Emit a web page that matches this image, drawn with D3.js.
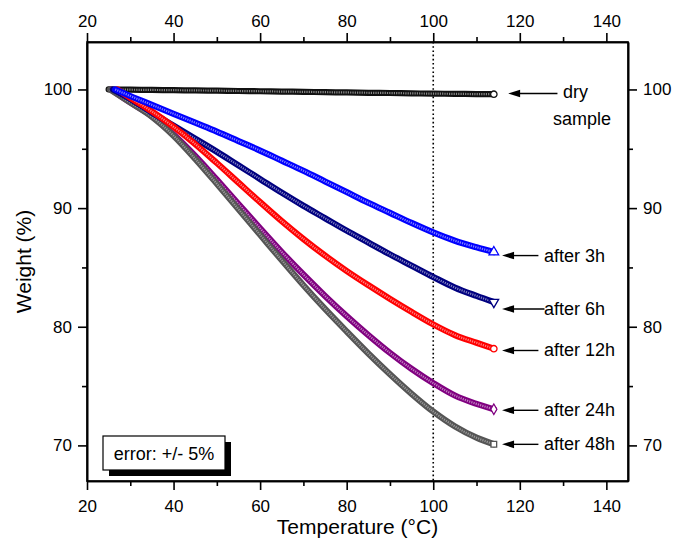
<!DOCTYPE html>
<html><head><meta charset="utf-8">
<script src="https://cdn.jsdelivr.net/npm/d3@7/dist/d3.min.js"></script>
<style>body{margin:0;background:#fff}svg{display:block}text{font-family:"Liberation Sans",Arial,sans-serif}</style>
</head><body><svg id="c" width="676" height="545"></svg>
<script>
// ---- data ----
const seriesNames = ["dry sample","after 3h","after 6h","after 12h","after 24h","after 48h"];
const tempGrid = [30,35,40,45,50,55,60,65,70,75,80,85,90,95,100,105,110,114];
const startTemps = [25, 26.5, 26, 27, 25.5, 25.3];
const wDry = [99.98,99.96,99.94,99.92,99.9,99.87,99.85,99.82,99.8,99.77,99.75,99.72,99.7,99.67,99.65,99.63,99.61,99.6];
const w3h  = [99.45,98.7,97.95,97.2,96.45,95.65,94.85,94.0,93.15,92.25,91.35,90.45,89.6,88.75,87.95,87.25,86.7,86.3];
const w6h  = [99.2,98.05,96.95,95.85,94.75,93.6,92.45,91.3,90.2,89.15,88.1,87.1,86.1,85.15,84.2,83.3,82.6,82.08];
const w12h = [99.3,98.15,96.85,95.4,93.8,92.15,90.5,88.9,87.4,86.0,84.7,83.5,82.35,81.25,80.2,79.3,78.65,78.15];
const w24h = [98.9,97.75,96.2,94.4,92.4,90.35,88.3,86.3,84.4,82.6,80.9,79.3,77.8,76.45,75.25,74.2,73.5,73.05];
const w48h = [98.9,97.7,96.1,94.15,92.05,89.9,87.75,85.6,83.5,81.5,79.6,77.75,76.0,74.35,72.85,71.6,70.65,70.1];
const arrowW = [99.66, 86.0, 81.5, 78.0, 72.96, 70.09];
const xTicks = [20,40,60,80,100,120,140];
const yTicks = [70,80,90,100];
const errorText = "error: +/- 5%";

const colors = ["#111111","#0000ff","#000080","#ff0000","#800080","#555555"];
const symbols = [d3.symbolCircle, d3.symbolTriangle, "tri-down", d3.symbolCircle, d3.symbolDiamond, d3.symbolSquare];
const weights = [wDry,w3h,w6h,w12h,w24h,w48h];

const W = 676, H = 545;
const m = {l:87, r:48, t:42, b:64};
const svg = d3.select("#c");
const x = d3.scaleLinear().domain([20,145]).range([m.l, W-m.r]);
const y = d3.scaleLinear().domain([67,104]).range([H-m.b, m.t]);

const series = seriesNames.map((n,i)=>({name:n, color:colors[i], sym:symbols[i],
  pts:[[startTemps[i],100]].concat(tempGrid.map((t,j)=>[t,weights[i][j]]))}));

// dotted line at 100
svg.append("line").attr("x1",x(100)).attr("x2",x(100)).attr("y1",y(104)).attr("y2",y(67))
  .attr("stroke","#000").attr("stroke-width",1.6).attr("stroke-dasharray","1.6,2.6");

const line = d3.line().x(d=>x(d[0])).y(d=>y(d[1])).curve(d3.curveMonotoneX);
const order = [0,4,5,2,3,1];
order.forEach(i=>{
  const s = series[i];
  const g = svg.append("g");
  g.append("path").attr("d",line(s.pts)).attr("fill","none").attr("stroke",s.color)
    .attr("stroke-width",6.2).attr("stroke-linecap","round");
  g.append("path").attr("d",line(s.pts)).attr("fill","none").attr("stroke","#fff")
    .attr("stroke-opacity",i===5?0.4:0.5).attr("stroke-width",2.2).attr("stroke-dasharray","1.2,1.1");
  const last = s.pts[s.pts.length-1];
  let p;
  if (s.sym==="tri-down") p = d3.symbol(d3.symbolTriangle).size(40)();
  else p = d3.symbol(s.sym).size(s.sym===d3.symbolTriangle?40:32)();
  g.append("path").attr("d",p)
    .attr("transform",`translate(${x(last[0])},${y(last[1])})${s.sym==="tri-down"?" rotate(180)":""}`)
    .attr("fill","#fff").attr("stroke",s.color).attr("stroke-width",1.3);
});

// axes
const minorX = d3.range(30,145,20);
const minorY = d3.range(75,104,10);
function axis(gen, tr, ticks, labels){
  const g = svg.append("g").attr("transform",tr).call(gen.tickValues(ticks).tickSizeOuter(0));
  g.select(".domain").attr("stroke-width",1.6);
  g.selectAll(".tick line").attr("stroke-width",1.6);
  g.selectAll("text").attr("font-size",17).attr("fill","#000");
  if(!labels) g.selectAll("text").remove();
  return g;
}
axis(d3.axisBottom(x).tickSize(9).tickPadding(10),`translate(0,${H-m.b})`,xTicks,true);
axis(d3.axisBottom(x).tickSize(5).tickFormat(""),`translate(0,${H-m.b})`,minorX,false);
axis(d3.axisTop(x).tickSize(9).tickPadding(6),`translate(0,${m.t})`,xTicks,true);
axis(d3.axisTop(x).tickSize(5).tickFormat(""),`translate(0,${m.t})`,minorX,false);
axis(d3.axisLeft(y).tickSize(9).tickPadding(6),`translate(${m.l},0)`,yTicks,true);
axis(d3.axisLeft(y).tickSize(5).tickFormat(""),`translate(${m.l},0)`,minorY,false);
axis(d3.axisRight(y).tickSize(9).tickPadding(6),`translate(${W-m.r},0)`,yTicks,true);
axis(d3.axisRight(y).tickSize(5).tickFormat(""),`translate(${W-m.r},0)`,minorY,false);
// frame
svg.append("rect").attr("x",m.l).attr("y",m.t).attr("width",W-m.l-m.r).attr("height",H-m.t-m.b)
  .attr("fill","none").attr("stroke","#000").attr("stroke-width",1.6);

// axis titles
svg.append("text").attr("x",(m.l+W-m.r)/2).attr("y",534).attr("text-anchor","middle")
  .attr("font-size",21).text("Temperature (°C)");
svg.append("text").attr("transform",`translate(31,${(m.t+H-m.b)/2}) rotate(-90)`).attr("text-anchor","middle")
  .attr("font-size",21).text("Weight (%)");

// arrows + labels
seriesNames.forEach((n,i)=>{
  const yy = y(arrowW[i]);
  const x0 = i===0 ? x(117.3) : x(115.9);
  const x1 = i===0 ? x(128.7) : (i===2 ? x(125.7) : x(124.3));
  svg.append("line").attr("x1",x0+6).attr("x2",x1).attr("y1",yy).attr("y2",yy)
    .attr("stroke","#000").attr("stroke-width",1.4);
  svg.append("path").attr("d",`M${x0},${yy} L${x0+12},${yy-3.8} L${x0+12},${yy+3.8} Z`).attr("fill","#000");
  if(i===0){
    svg.append("text").attr("x",563).attr("y",yy+5).attr("font-size",18).text("dry");
    svg.append("text").attr("x",553).attr("y",yy+32).attr("font-size",18).text("sample");
  } else {
    svg.append("text").attr("x",544).attr("y",yy+6).attr("font-size",18).text(n);
  }
});

// error box
const bx = 103, by = 436, bw = 122, bh = 34;
svg.append("rect").attr("x",bx+6).attr("y",by+6).attr("width",bw).attr("height",bh).attr("fill","#000");
svg.append("rect").attr("x",bx).attr("y",by).attr("width",bw).attr("height",bh).attr("fill","#fff")
  .attr("stroke","#000").attr("stroke-width",1.2);
svg.append("text").attr("x",bx+bw/2).attr("y",by+23.5).attr("text-anchor","middle").attr("font-size",18).text(errorText);
</script></body></html>
